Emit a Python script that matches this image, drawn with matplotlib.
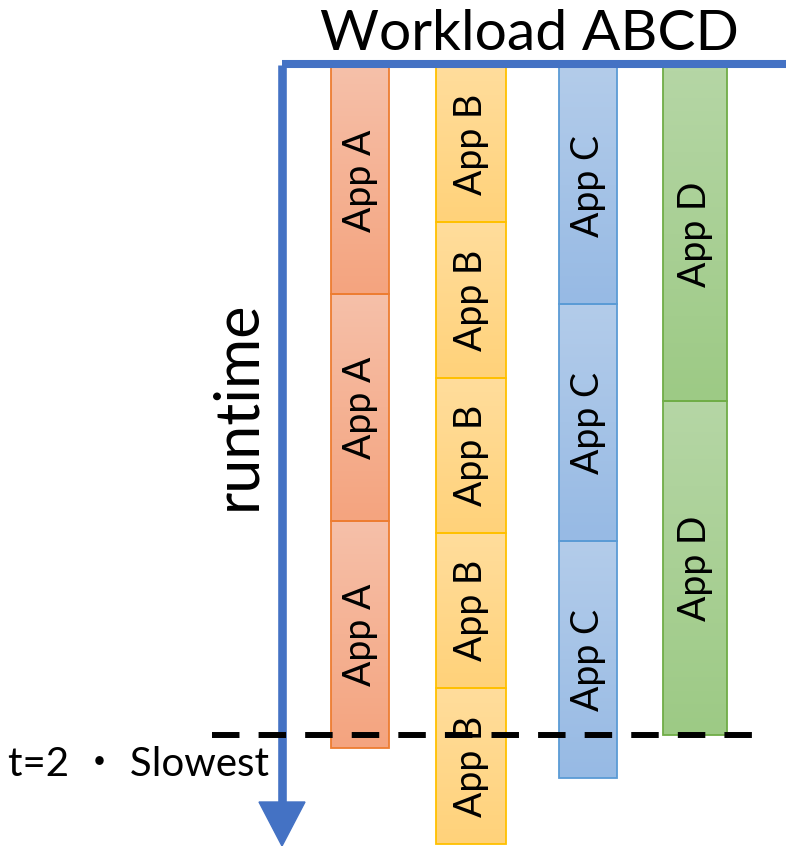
import numpy as np
import matplotlib
matplotlib.use("Agg")
import matplotlib.pyplot as plt
from matplotlib.patches import Rectangle, Polygon
from matplotlib.colors import LinearSegmentedColormap

plt.rcParams['font.family'] = ['Lato', 'Noto Sans CJK JP', 'DejaVu Sans']

# workload: each app is rerun back to back until the slowest one finishes
apps = ['App A', 'App B', 'App C', 'App D']
run_count = [3, 5, 3, 2]
run_time = [0.68, 0.465, 0.71, 1.0]
deadline = 2.0
title = 'Workload ABCD'
axis_label = 'runtime'
deadline_label = 't=2 \u30fb Slowest'

# bar placement (pixels across) and colours
bar_x = [(331, 389), (436, 506), (559, 617), (663, 727)]
fill_top = ['#F6C0A9', '#FFDD9C', '#B3CCEA', '#B5D6A5']
fill_bot = ['#F4A47F', '#FFD27A', '#97BAE4', '#9DCA85']
edges = ['#ED7D31', '#FFC000', '#5B9BD5', '#70AD47']
blue = '#4472C4'

W, H = 786, 846
top_px, px_per_t = 67, 334

fig = plt.figure(figsize=(W / 100, H / 100), dpi=100)
ax = fig.add_axes([0, 0, 1, 1])
ax.axis('off')

def t_of(py):
    return (py - top_px) / px_per_t

grad = np.linspace(0, 1, 64).reshape(-1, 1)
for i, name in enumerate(apps):
    x0, x1 = bar_x[i]
    cmap = LinearSegmentedColormap.from_list(name, [fill_top[i], fill_bot[i]])
    for k in range(run_count[i]):
        t0 = k * run_time[i]
        t1 = t0 + run_time[i]
        ax.imshow(grad, extent=(x0, x1, t1, t0), aspect='auto', cmap=cmap,
                  interpolation='bilinear', zorder=2)
        ax.add_patch(Rectangle((x0, t0), x1 - x0, run_time[i], fill=False,
                               edgecolor=edges[i], lw=1.3, zorder=3))
        ax.text((x0 + x1) / 2, (t0 + t1) / 2, name, rotation=90,
                ha='center', va='center', fontsize=27, color='black', zorder=4)

# time axis: top rule and downward arrow
ax.plot([282, W], [t_of(64), t_of(64)], color=blue, lw=5.8,
        solid_capstyle='butt', zorder=5)
ax.plot([282, 282], [t_of(65), t_of(805)], color=blue, lw=6.2,
        solid_capstyle='butt', zorder=5)
ax.add_patch(Polygon([(259, t_of(802)), (305, t_of(802)), (282, t_of(846))],
                     closed=True, color=blue, zorder=5))

# deadline marker
ax.plot([212, 770], [deadline, deadline], color='black', lw=4.3,
        dashes=(4.6, 3.2), zorder=6)
ax.text(8, t_of(776), deadline_label, ha='left', va='baseline',
        fontsize=29, color='black')

ax.text(529, t_of(50), title, ha='center', va='baseline', fontsize=41,
        color='black')
ax.text(238, t_of(405), axis_label, rotation=90, ha='center', va='center',
        fontsize=44, color='black')

ax.set_xlim(0, W)
ax.set_ylim(t_of(H), t_of(0))

fig.savefig('out.png', dpi=100)
